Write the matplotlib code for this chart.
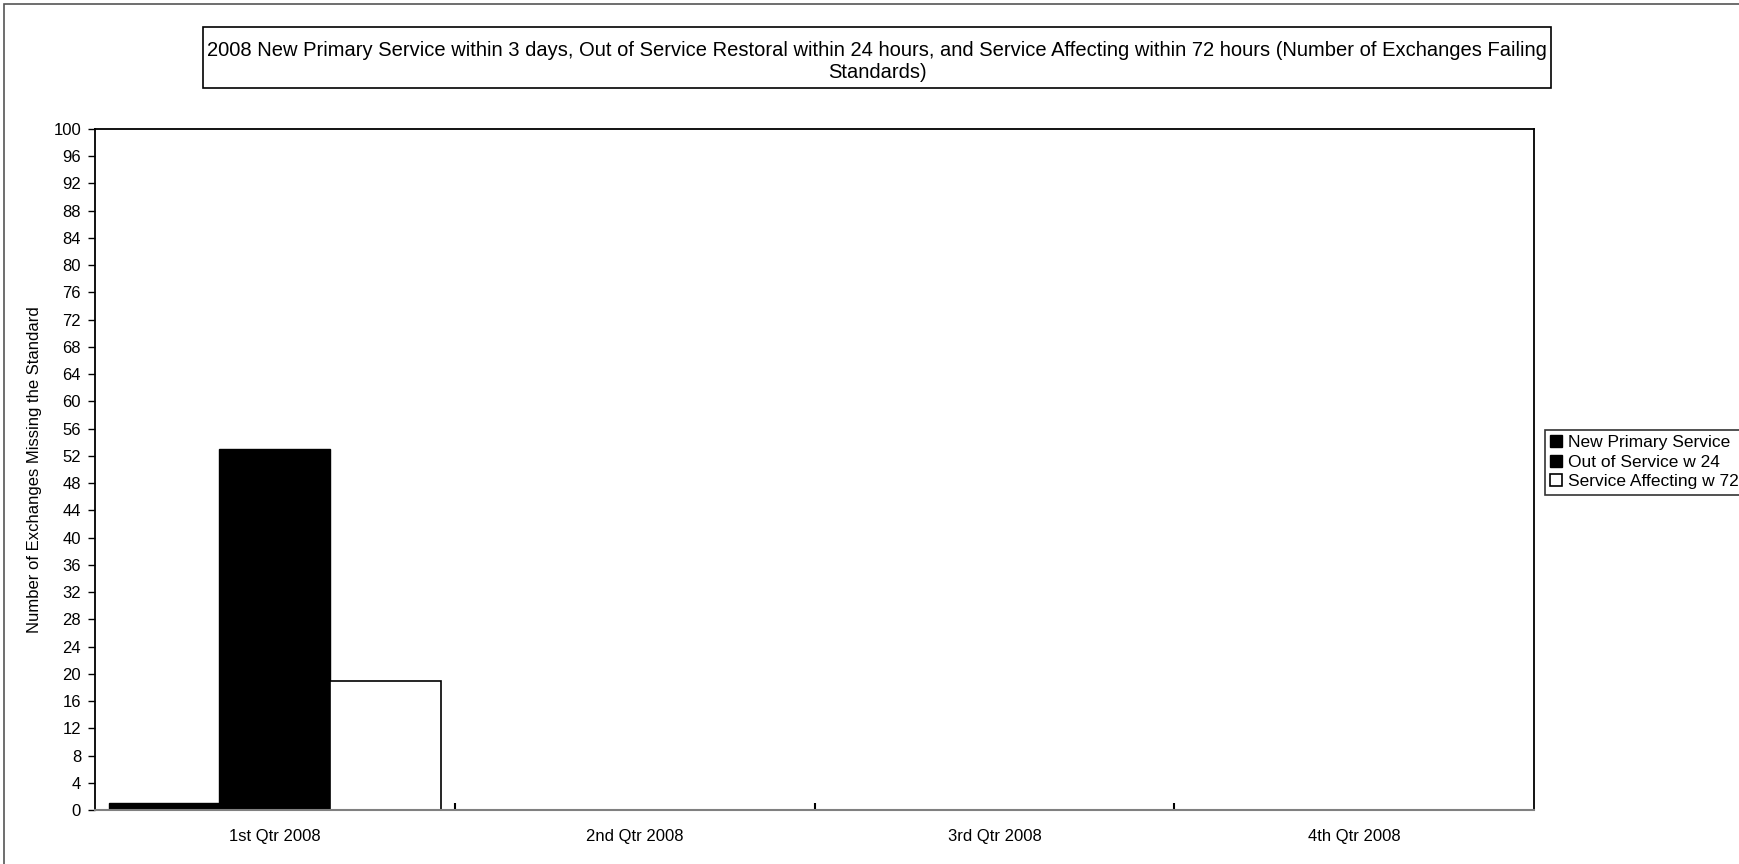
import numpy as np
import matplotlib
matplotlib.use('Agg')
import matplotlib.pyplot as plt
from matplotlib.patches import Rectangle

# ── Data ──────────────────────────────────────────────────────
quarters          = ['1st Qtr 2008', '2nd Qtr 2008', '3rd Qtr 2008', '4th Qtr 2008']
new_primary       = [1, 0, 0, 0]
out_of_service    = [53, 0, 0, 0]
service_affecting = [19, 0, 0, 0]
series_names = ['New Primary Service', 'Out of Service w 24', 'Service Affecting w 72']

TITLE = ('2008 New Primary Service within 3 days, Out of Service Restoral within 24 hours, '
         'and Service Affecting within 72 hours (Number of Exchanges Failing\nStandards)')

# ── Style ──────────────────────────────────────────────────────
plt.rcParams.update({
    'font.family': ['Liberation Sans', 'DejaVu Sans'],
    'font.size': 12,
})

W, H = 1739, 864
fig = plt.figure(figsize=(W / 100, H / 100), dpi=100)
fig.patch.set_facecolor('white')

# outer chart-area border (left and top edges only show)
fig.add_artist(Rectangle((4 / W, -0.1), 1.2, 1 - 4 / H + 0.1,
                         transform=fig.transFigure, fill=False,
                         edgecolor='#555555', linewidth=1.2))

ax = fig.add_axes([95 / W, 1 - 810 / H, (1534 - 95) / W, (810 - 129) / H])

x = np.arange(len(quarters))
bw = 0.308
ax.bar(x - bw, new_primary, width=bw, color='black', edgecolor='black',
       linewidth=1, label=series_names[0])
ax.bar(x, out_of_service, width=bw, color='black', edgecolor='black',
       linewidth=1, label=series_names[1])
ax.bar(x + bw, service_affecting, width=bw, color='white', edgecolor='black',
       linewidth=1.2, label=series_names[2])

ax.set_xlim(-0.5, len(quarters) - 0.5)
ax.set_ylim(0, 100)
ax.set_yticks(np.arange(0, 101, 4))
ax.tick_params(axis='y', direction='out', length=5, width=1, labelsize=12, pad=5)

# category labels centred, tick marks on the category boundaries
ax.set_xticks(x[:-1] + 0.5)
ax.set_xticklabels([])
ax.tick_params(axis='x', which='major', direction='in', length=5, width=1.5)
ax.set_xticks(x, minor=True)
ax.set_xticklabels(quarters, minor=True)
ax.tick_params(axis='x', which='minor', length=0, labelsize=12, pad=14)

ax.set_ylabel('Number of Exchanges Missing the Standard', fontsize=12, labelpad=8)

for side in ['top', 'right', 'left']:
    ax.spines[side].set_color('black')
    ax.spines[side].set_linewidth(1.3)
ax.spines['bottom'].set_color('#808080')
ax.spines['bottom'].set_linewidth(1.5)

# title in a framed box
tx0, tx1, ty0, ty1 = 203 / W, 1551 / W, 1 - 88 / H, 1 - 27 / H
fig.add_artist(Rectangle((tx0, ty0), tx1 - tx0, ty1 - ty0,
                         transform=fig.transFigure, fill=False,
                         edgecolor='black', linewidth=1.2))
fig.text((tx0 + tx1) / 2, 1 - 61 / H, TITLE, ha='center', va='center',
         fontsize=14.5, linespacing=1.2)

leg = fig.legend(loc='upper left', bbox_to_anchor=(1545 / W, 1 - 430 / H),
                 fontsize=12.5, frameon=True, fancybox=False, handlelength=0.7,
                 handleheight=0.7, handletextpad=0.3, labelspacing=0.25,
                 borderpad=0.3, borderaxespad=0)
leg.get_frame().set_edgecolor('black')
leg.get_frame().set_linewidth(1.2)

fig.savefig('out.png', dpi=100, facecolor='white')
